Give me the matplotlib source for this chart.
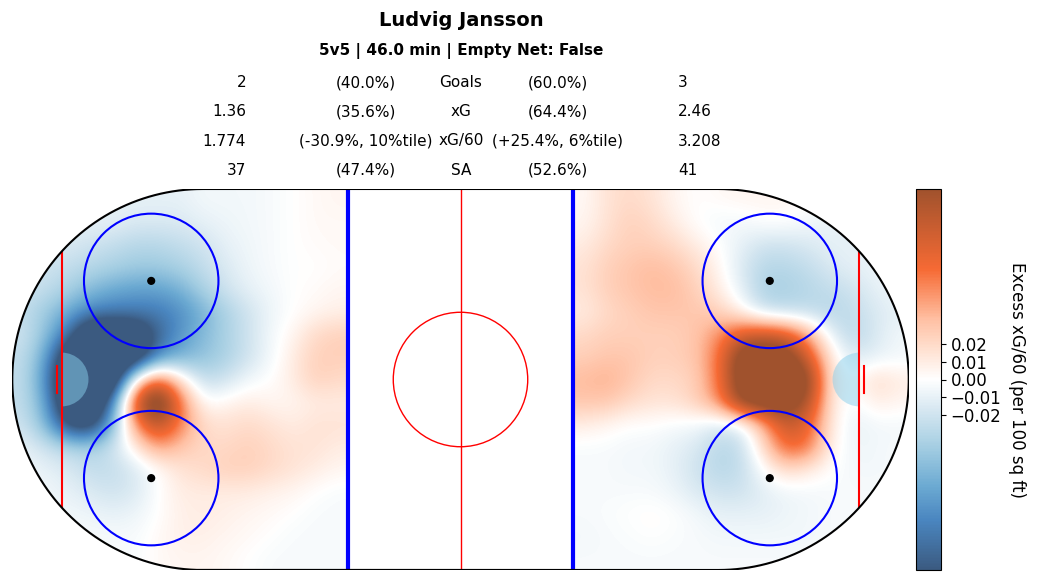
import numpy as np
import matplotlib
matplotlib.use("Agg")
import matplotlib.pyplot as plt
from matplotlib.colors import LinearSegmentedColormap
from matplotlib.patches import Circle, Wedge, PathPatch
from matplotlib.path import Path

# ---- data ----
player = "Ludvig Jansson"
subtitle = "5v5 | 46.0 min | Empty Net: False"
stat_names = ["Goals", "xG", "xG/60", "SA"]
left_vals = ["2", "1.36", "1.774", "37"]
left_pcts = ["(40.0%)", "(35.6%)", "(-30.9%, 10%tile)", "(47.4%)"]
right_pcts = ["(60.0%)", "(64.4%)", "(+25.4%, 6%tile)", "(52.6%)"]
right_vals = ["3", "2.46", "3.208", "41"]

# excess xG/60 per 100 sq ft, in units of 0.01, 5 ft cells
# rows: y = 40 ... -40 ; columns: x = -97.5 ... -27.5 (left zone)
left_zone = [
    [-1, -1, -1, -1, -1, -1, -1, -1, -0.5, -0.5, -0.5, -0.3, 0, 0.3, 0.5],
    [-1, -1, -1, -1, -1, -1.5, -1.5, -1.5, -1, -0.7, -0.5, -0.3, 0, 0.3, 0.3],
    [-1.5, -1.5, -1.5, -2, -2.5, -3, -3, -2.5, -2, -1, -0.6, -0.3, 0, 0.2, 0.3],
    [-1.5, -2, -2.5, -3, -3.5, -4, -4, -3.5, -2.5, -1.5, -0.7, -0.3, 0, 0, 0.2],
    [-2, -2.5, -3.5, -5, -6, -6.5, -6.5, -5.5, -3.5, -2, -1, -0.5, 0, 0.2, 0.5],
    [-2.5, -4, -6, -8, -8.5, -8.5, -8.5, -7.5, -5.5, -3.5, -2, -0.7, 0, 0.5, 0.8],
    [-2, -4.5, -9, -16, -16, -15, -10, -7, -5, -3.5, -2, -0.5, 0.5, 2, 2.5],
    [-2.5, -6, -15, -17, -17, -15, -7.5, -5.5, -4.5, -3.5, -2, -0.5, 1, 2.5, 2.5],
    [-2.5, -7, -17, -18, -16, 1, 7, 1.5, -2.5, -2, -0.5, 0, 1, 2.5, 2],
    [-2.5, -6, -16, -17, -8, 9, 15, 6, 0, 0.5, 1, 0.5, 0.5, 1, 1],
    [-2, -5, -12, -13, -5, 5, 10, 5.5, 2, 1.5, 2, 1.5, 1, 1.5, 1.5],
    [-1, -2, -3, -3.5, -2, 1, 4.5, 3, 2, 2, 2.5, 2, 1.5, 1.5, 1],
    [-0.5, -1, -1.5, -2.5, -2.5, -1.5, 0, 1.5, 2, 2.5, 2.5, 2, 1.5, 1, 0.5],
    [-0.5, -0.5, -1, -1.5, -2, -1.5, 0, 1, 1, 1, 1, 0.7, 0.5, 0, -0.3],
    [-0.5, -0.5, -0.5, -0.7, -1, -0.7, 0, 0.8, 1, 0.8, 0.5, 0.3, 0, -0.3, -0.3],
    [-0.3, -0.3, -0.3, -0.3, -0.3, -0.3, 0.3, 0.8, 0.8, 0.5, 0.3, 0, -0.3, -0.3, -0.3],
    [-0.3, -0.3, -0.3, -0.3, -0.3, -0.3, 0.3, 0.5, 0.5, 0.3, 0, -0.3, -0.3, -0.3, -0.3],
]
# columns: x = 27.5 ... 97.5 (right zone)
right_zone = [
    [0.3, 1.5, 2, 1.5, 0.5, 0, 0.3, 0.5, 0.5, 0.5, 0, 0, 0, 0, 0],
    [0.5, 1.5, 2.5, 2, 1, 0, -0.5, -0.5, 0, 0, -0.5, -1, -1, -1, -1],
    [1, 2, 2.5, 2.5, 2, 1, 0, -1, -2, -2, -1.5, -1, -1, -1, -1],
    [1.5, 2.5, 3, 3.5, 3, 2, 0.5, -1.5, -3, -3, -2.5, -1.5, -1, -0.7, -0.5],
    [1.5, 2.5, 3, 3.5, 3.5, 2.5, 1, -1, -3.5, -3.5, -3, -2.5, -2, -1, -0.5],
    [1, 2, 2.5, 3, 3, 3, 2.5, 0.5, -2, -2.5, -2.5, -3, -2.5, -1.5, -1],
    [2, 2.5, 2.5, 2.5, 2.5, 3, 5, 8, 9, 8, 4, -1, -3, -1.5, -0.5],
    [2.5, 3, 3, 2.5, 2.5, 3, 6, 13, 14, 13, 8, 1, -1.5, -1, -0.5],
    [3.5, 4, 3, 2, 2, 2.5, 6, 13, 14, 14, 12, 1, 0, 2, 1],
    [3, 3, 2, 1.5, 1.5, 2.5, 5, 12, 13, 13, 10, 1, -0.5, 1, 0.5],
    [1, 0.5, 0, 0, -0.3, -0.5, -1.5, -1, 4, 9, 7, 1, -1, -0.5, -0.5],
    [-0.3, -0.3, -0.5, -0.5, -1, -1.5, -3, -2.5, 2, 7, 6, 0.5, -0.7, -0.5, -0.3],
    [-0.3, -0.3, -0.5, -0.5, -1, -2, -3, -2.5, 0, 2, 1, 0, -0.5, -0.5, -0.3],
    [-0.3, -0.3, -0.3, -0.3, -0.7, -1.5, -2, -2, -1.2, -0.7, -0.5, -0.3, -0.3, -0.3, -0.3],
    [-0.3, -0.2, 0, 0.2, 0, -0.5, -1, -1, -1, -0.7, -0.5, -0.3, -0.3, -0.3, -0.3],
    [-0.5, -0.3, -0.2, 0, -0.2, -0.3, -0.5, -0.5, -0.5, -0.5, -0.5, -0.3, -0.3, -0.3, -0.3],
    [-0.3, -0.3, -0.3, -0.3, -0.3, -0.3, -0.3, -0.3, -0.3, -0.3, -0.3, -0.3, -0.3, -0.3, -0.3],
]
cbar_ticks = [-0.02, -0.01, 0.0, 0.01, 0.02]
vlim = 0.107

# ---- figure ----
fig = plt.figure(figsize=(10.41, 5.82), dpi=100)
ax = fig.add_axes([12 / 1041, 12 / 582, 897 / 1041, 381 / 582])
ax.set_xlim(-100, 100)
ax.set_ylim(-42.5, 42.5)
ax.set_aspect("equal")
ax.axis("off")

cmap = LinearSegmentedColormap.from_list("xg", [
    (0.0, "#3b5a80"), (0.13, "#4a86c0"), (0.22, "#6caad2"), (0.32, "#a3cde2"),
    (0.42, "#d6e7f1"), (0.5, "#ffffff"), (0.58, "#ffe0d0"), (0.66, "#ffbfa2"),
    (0.79, "#f66a34"), (1.0, "#a0522d")])

# rink outline (semicircular ends)
r = 42.5
t = np.linspace(np.pi / 2, -np.pi / 2, 100)
right_arc = np.column_stack([57.5 + r * np.cos(t), r * np.sin(t)])
left_arc = np.column_stack([-57.5 - r * np.cos(t), -r * np.sin(t)])
verts = np.vstack([right_arc, left_arc, right_arc[:1]])
rink_path = Path(verts)
rink = PathPatch(rink_path, facecolor="none", edgecolor="black", lw=1.5, zorder=5)
ax.add_patch(rink)

im = None
for vals, ext in [(left_zone, [-100, -25, -42.5, 42.5]), (right_zone, [25, 100, -42.5, 42.5])]:
    im = ax.imshow(np.array(vals) / 100, extent=ext, origin="upper", cmap=cmap,
                   vmin=-vlim, vmax=vlim, interpolation="bicubic",
                   interpolation_stage="data", zorder=1)
    im.set_clip_path(rink)

# markings
ax.plot([0, 0], [-42.5, 42.5], color="red", lw=1, zorder=3)
for bx in (-25, 25):
    ax.plot([bx, bx], [-42.5, 42.5], color="blue", lw=3, zorder=3)
gl_y = np.sqrt(r ** 2 - (89 - 57.5) ** 2)
for gx in (-89, 89):
    ax.plot([gx, gx], [-gl_y, gl_y], color="red", lw=1.5, zorder=3)
    ax.plot([gx * 90 / 89] * 2, [-3, 3], color="red", lw=1.5, zorder=3)
ax.add_patch(Wedge((-89, 0), 6, -90, 90, facecolor="skyblue", alpha=0.5, lw=0, zorder=2))
ax.add_patch(Wedge((89, 0), 6, 90, 270, facecolor="skyblue", alpha=0.5, lw=0, zorder=2))
ax.add_patch(Circle((0, 0), 15, fill=False, edgecolor="red", lw=1, zorder=3))
for fx in (-69, 69):
    for fy in (-22, 22):
        ax.add_patch(Circle((fx, fy), 15, fill=False, edgecolor="blue", lw=1.5, zorder=3))
        ax.add_patch(Circle((fx, fy), 0.75, color="black", zorder=4))

# colorbar
cax = fig.add_axes([916 / 1041, 12 / 582, 25 / 1041, 381 / 582])
cb = fig.colorbar(im, cax=cax, ticks=cbar_ticks)
cb.ax.tick_params(labelsize=12)
cb.set_label("Excess xG/60 (per 100 sq ft)", rotation=270, fontsize=12, labelpad=18)

# header text
fig.text(461 / 1041, 1 - 21 / 582, player, ha="center", va="center", fontsize=14, fontweight="bold")
fig.text(461 / 1041, 1 - 51 / 582, subtitle, ha="center", va="center", fontsize=11, fontweight="bold")
row_y = [83, 112, 141, 170]
for i, py in enumerate(row_y):
    y = 1 - py / 582
    fig.text(246 / 1041, y, left_vals[i], ha="right", va="center", fontsize=11)
    fig.text(366 / 1041, y, left_pcts[i], ha="center", va="center", fontsize=11)
    fig.text(461 / 1041, y, stat_names[i], ha="center", va="center", fontsize=11)
    fig.text(558 / 1041, y, right_pcts[i], ha="center", va="center", fontsize=11)
    fig.text(678 / 1041, y, right_vals[i], ha="left", va="center", fontsize=11)

fig.savefig("out.png", dpi=100)
